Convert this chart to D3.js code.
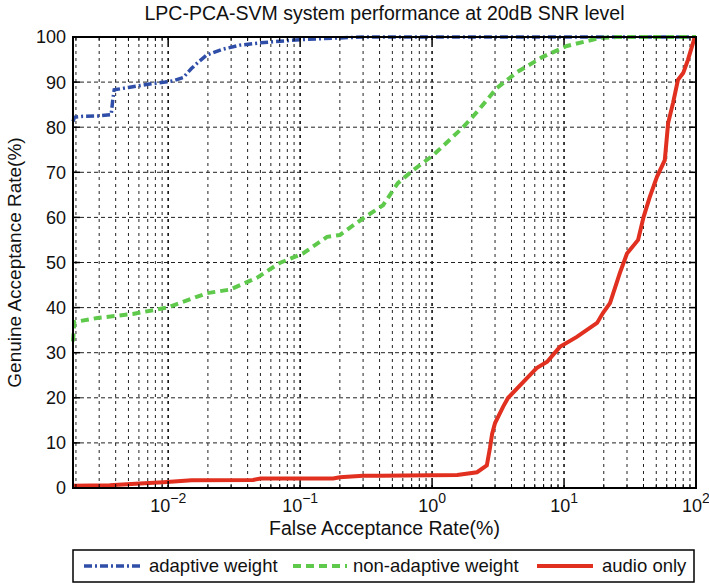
<!DOCTYPE html>
<html>
<head>
<meta charset="utf-8">
<script src="https://cdn.jsdelivr.net/npm/d3@7"></script>
<style>
    body { margin: 0; background: #fff; }
    text { font-family: "Liberation Sans", Arial, Helvetica, sans-serif; fill: #111; }
</style>
</head>
<body>
<svg id="viz-roc" width="709" height="586"></svg>
<script>
// values (FAR in %, GAR in %)
var adaptiveFAR = [0.0019, 0.00195, 0.0022, 0.003, 0.0037, 0.0038, 0.0039, 0.005, 0.007, 0.0095, 0.011, 0.013, 0.015, 0.017, 0.0196, 0.026, 0.035, 0.05, 0.1, 0.2, 0.3, 100];
var adaptiveGAR = [81.3, 82.2, 82.4, 82.5, 82.8, 86, 88.3, 88.8, 89.5, 90, 90.3, 91, 93, 94.5, 96, 97.3, 98.2, 98.7, 99.4, 99.8, 100, 100];

var nonAdaptiveFAR = [0.0019, 0.00195, 0.0029, 0.0054, 0.0098, 0.0197, 0.0295, 0.047, 0.07, 0.105, 0.16, 0.2, 0.3, 0.425, 0.55, 0.72, 1.02, 1.72, 2.19, 3.1, 4.4, 6.9, 10.5, 18.7, 25, 100];
var nonAdaptiveGAR = [32.5, 36.8, 37.7, 38.6, 40, 43.2, 44, 46.6, 49.9, 52, 55.7, 56.1, 59.8, 62.7, 67.6, 70.5, 73.8, 80, 83.4, 88.7, 92.2, 95.6, 98, 99.8, 100, 100];

var audioFAR = [0.0019, 0.0036, 0.0061, 0.0092, 0.015, 0.044, 0.05, 0.178, 0.2, 0.3, 0.4, 1.55, 2.19, 2.6, 2.75, 2.85, 3.0, 3.45, 3.77, 4.9, 6.2, 7.45, 9.3, 12.5, 17.8, 19.7, 22.3, 26.5, 30, 36.4, 40, 44.6, 50.6, 58, 61.5, 67, 73, 80, 87, 93, 98];
var audioGAR = [0.5, 0.6, 1.0, 1.3, 1.7, 1.8, 2.1, 2.1, 2.4, 2.7, 2.7, 2.9, 3.5, 5, 9, 12, 14.4, 18, 20, 23.5, 26.6, 28, 31.3, 33.5, 36.6, 38.8, 41, 47.7, 52, 55, 60, 64.5, 69, 72.7, 80.9, 85.4, 90.5, 92, 95, 97.8, 100];

var xTicks = [0.01, 0.1, 1, 10, 100];
var xTickExp = ["\u22122", "\u22121", "0", "1", "2"];
var yTicks = [0, 10, 20, 30, 40, 50, 60, 70, 80, 90, 100];

var seriesNames = ["adaptive weight", "non-adaptive weight", "audio only"];
var seriesColors = ["#2f4ea8", "#5ec94b", "#e1301f"];
var seriesDash = ["8,3,2,3", "8,5", null];
var seriesWidth = [3.5, 4, 4];

function zip(xs, ys) {
    return xs.map(function(x, i) { return { far: x, gar: ys[i] }; });
}
var series = [zip(adaptiveFAR, adaptiveGAR), zip(nonAdaptiveFAR, nonAdaptiveGAR), zip(audioFAR, audioGAR)];

var svg = d3.select("#viz-roc"),
    margin = { top: 37, right: 13, bottom: 98, left: 73 },
    width = +svg.attr("width") - margin.left - margin.right,
    height = +svg.attr("height") - margin.top - margin.bottom;

var x = d3.scaleLog().domain([0.0019, 100]).range([0, width]),
    y = d3.scaleLinear().domain([0, 100]).range([height, 0]);

var g = svg.append("g")
    .attr("transform", "translate(" + margin.left + "," + margin.top + ")");

// minor positions 2..9 x 10^k inside the domain
var minorTicks = [];
for (var k = -3; k <= 1; k++) {
    for (var m = 2; m <= 9; m++) {
        var v = m * Math.pow(10, k);
        if (v > 0.0019 && v < 100) minorTicks.push(v);
    }
}

/////////////////// grid //////////////////
g.selectAll(".xminor")
    .data(minorTicks)
    .enter().append("line")
    .attr("x1", function(d) { return x(d); })
    .attr("x2", function(d) { return x(d); })
    .attr("y1", 0).attr("y2", height)
    .attr("stroke", "#222").attr("stroke-width", 1)
    .attr("stroke-dasharray", "3,4");

g.selectAll(".xmajor")
    .data(xTicks)
    .enter().append("line")
    .attr("x1", function(d) { return x(d); })
    .attr("x2", function(d) { return x(d); })
    .attr("y1", 0).attr("y2", height)
    .attr("stroke", "#111").attr("stroke-width", 1.6)
    .attr("stroke-dasharray", "3,4");

g.selectAll(".ygrid")
    .data(yTicks)
    .enter().append("line")
    .attr("x1", 0).attr("x2", width)
    .attr("y1", function(d) { return y(d); })
    .attr("y2", function(d) { return y(d); })
    .attr("stroke", "#222").attr("stroke-width", 1)
    .attr("stroke-dasharray", "4,3");

/////////////////// curves //////////////////
var line = d3.line()
    .x(function(d) { return x(d.far); })
    .y(function(d) { return y(d.gar); });

series.forEach(function(s, i) {
    g.append("path")
        .datum(s)
        .attr("fill", "none")
        .attr("stroke", seriesColors[i])
        .attr("stroke-width", seriesWidth[i])
        .attr("stroke-dasharray", seriesDash[i])
        .attr("d", line);
});

/////////////////// axes box + ticks //////////////////
g.append("rect")
    .attr("width", width).attr("height", height)
    .attr("fill", "none").attr("stroke", "#000").attr("stroke-width", 2);

[0, height].forEach(function(yy) {
    var dir = yy === 0 ? 1 : -1;
    g.selectAll(null).data(xTicks).enter().append("line")
        .attr("x1", function(d) { return x(d); }).attr("x2", function(d) { return x(d); })
        .attr("y1", yy).attr("y2", yy + dir * 7)
        .attr("stroke", "#000").attr("stroke-width", 1.5);
    g.selectAll(null).data(minorTicks).enter().append("line")
        .attr("x1", function(d) { return x(d); }).attr("x2", function(d) { return x(d); })
        .attr("y1", yy).attr("y2", yy + dir * 4)
        .attr("stroke", "#000").attr("stroke-width", 1);
});
[0, width].forEach(function(xx) {
    var dir = xx === 0 ? 1 : -1;
    g.selectAll(null).data(yTicks).enter().append("line")
        .attr("y1", function(d) { return y(d); }).attr("y2", function(d) { return y(d); })
        .attr("x1", xx).attr("x2", xx + dir * 7)
        .attr("stroke", "#000").attr("stroke-width", 1.5);
});

// tick labels
g.selectAll(".ylab")
    .data(yTicks)
    .enter().append("text")
    .attr("x", -7)
    .attr("y", function(d) { return y(d); })
    .attr("dy", "0.36em")
    .attr("text-anchor", "end")
    .attr("font-size", 18)
    .text(function(d) { return d; });

var xl = g.selectAll(".xlab")
    .data(xTicks)
    .enter().append("text")
    .attr("x", function(d) { return x(d); })
    .attr("y", height + 24)
    .attr("text-anchor", "middle")
    .attr("font-size", 18);
xl.append("tspan").text("10");
xl.append("tspan")
    .attr("dy", -9)
    .attr("font-size", 14)
    .text(function(d, i) { return xTickExp[i]; });

/////////////////// titles //////////////////
g.append("text")
    .attr("x", width / 2)
    .attr("y", -17)
    .attr("text-anchor", "middle")
    .attr("font-size", 19.5)
    .text("LPC-PCA-SVM system performance at 20dB SNR level");

g.append("text")
    .attr("x", width / 2)
    .attr("y", height + 47)
    .attr("text-anchor", "middle")
    .attr("font-size", 19.5)
    .text("False Acceptance Rate(%)");

g.append("text")
    .attr("transform", "rotate(-90)")
    .attr("x", -height / 2)
    .attr("y", -52)
    .attr("text-anchor", "middle")
    .attr("font-size", 19)
    .text("Genuine Acceptance Rate(%)");

/////////////////// legend //////////////////
var legend = svg.append("g").attr("transform", "translate(73,550)");
legend.append("rect")
    .attr("width", 621).attr("height", 32)
    .attr("fill", "#fff").attr("stroke", "#000").attr("stroke-width", 1.5);

var legendLine = [[11, 69], [220, 274], [464, 520]];
var legendText = [76, 280, 529];
seriesNames.forEach(function(name, i) {
    legend.append("line")
        .attr("x1", legendLine[i][0]).attr("x2", legendLine[i][1])
        .attr("y1", 16).attr("y2", 16)
        .attr("stroke", seriesColors[i])
        .attr("stroke-width", seriesWidth[i])
        .attr("stroke-dasharray", seriesDash[i]);
    legend.append("text")
        .attr("x", legendText[i])
        .attr("y", 22)
        .attr("font-size", 18.5)
        .text(name);
});
</script>
</body>
</html>
